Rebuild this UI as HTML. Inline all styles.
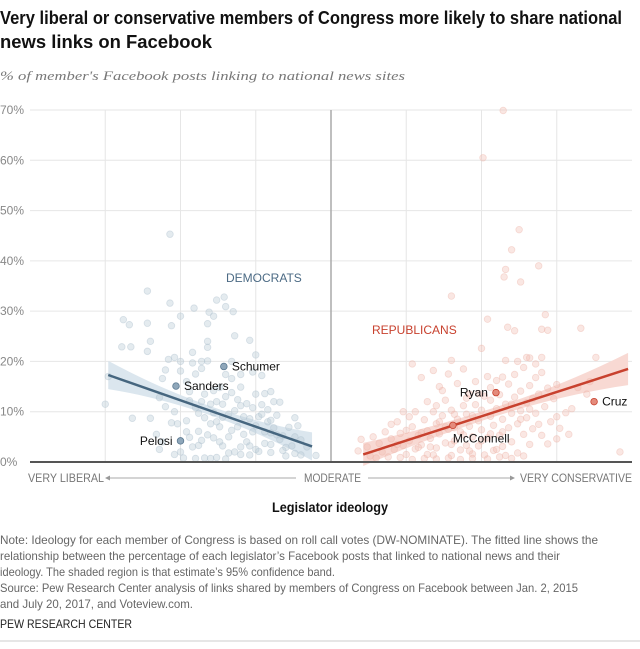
<!DOCTYPE html>
<html><head><meta charset="utf-8"><style>
html,body{margin:0;padding:0;background:#fff;}
svg{display:block;font-family:"Liberation Sans Narrow","Liberation Sans",sans-serif;}
</style></head><body>
<svg id="chart" width="640" height="649" viewBox="0 0 640 649" xmlns="http://www.w3.org/2000/svg">
<text x="0" y="24" font-size="18" font-weight="bold" fill="#111" textLength="622" lengthAdjust="spacingAndGlyphs">Very liberal or conservative members of Congress more likely to share national</text>
<text x="0" y="48" font-size="18" font-weight="bold" fill="#111" textLength="212" lengthAdjust="spacingAndGlyphs">news links on Facebook</text>
<text x="0" y="80" font-size="13" font-style="italic" fill="#777" font-family="Liberation Serif, serif" textLength="405" lengthAdjust="spacingAndGlyphs">% of member's Facebook posts linking to national news sites</text>
<g id="grid"></g>
<g id="bands"></g>
<g id="pts"></g>
<g id="fits"></g>
<g id="labels"></g>
<text x="226" y="282" font-size="12" fill="#4b6a84">DEMOCRATS</text>
<text x="372" y="334" font-size="12" fill="#c8412e">REPUBLICANS</text>
<g font-size="12" fill="#777">
<text x="28" y="482" textLength="76" lengthAdjust="spacingAndGlyphs">VERY LIBERAL</text>
<line x1="108" y1="478" x2="296" y2="478" stroke="#bbb" stroke-width="1.2"/>
<polygon points="105,478 110,475.5 110,480.5" fill="#999"/>
<text x="304" y="482" textLength="57" lengthAdjust="spacingAndGlyphs">MODERATE</text>
<line x1="368" y1="478" x2="511" y2="478" stroke="#bbb" stroke-width="1.2"/>
<polygon points="515,478 510,475.5 510,480.5" fill="#999"/>
<text x="520" y="482" textLength="112" lengthAdjust="spacingAndGlyphs">VERY CONSERVATIVE</text>
</g>
<text x="272" y="512" font-size="14" font-weight="bold" fill="#111" textLength="116" lengthAdjust="spacingAndGlyphs">Legislator ideology</text>
<g font-size="12" fill="#666">
<text x="0" y="544" textLength="598" lengthAdjust="spacingAndGlyphs">Note: Ideology for each member of Congress is based on roll call votes (DW-NOMINATE). The fitted line shows the</text>
<text x="0" y="560" textLength="560" lengthAdjust="spacingAndGlyphs">relationship between the percentage of each legislator’s Facebook posts that linked to national news and their</text>
<text x="0" y="576" textLength="335" lengthAdjust="spacingAndGlyphs">ideology. The shaded region is that estimate’s 95% confidence band.</text>
<text x="0" y="592" textLength="578" lengthAdjust="spacingAndGlyphs">Source: Pew Research Center analysis of links shared by members of Congress on Facebook between Jan. 2, 2015</text>
<text x="0" y="608" textLength="193" lengthAdjust="spacingAndGlyphs">and July 20, 2017, and Voteview.com.</text>
</g>
<text x="0" y="628" font-size="12" fill="#222" textLength="132" lengthAdjust="spacingAndGlyphs">PEW RESEARCH CENTER</text>
<line x1="0" y1="641" x2="640" y2="641" stroke="#ccc" stroke-width="1"/>
</svg>
<script>
const yTicks = [0,10,20,30,40,50,60,70];
const xTicks = [-1,-0.75,-0.5,-0.25,0,0.25,0.5,0.75,1];
const demX = [-0.535,-0.61,-0.535,-0.69,-0.67,-0.61,-0.53,-0.5,-0.455,-0.405,-0.38,-0.355,-0.35,-0.325,-0.39,-0.41,-0.695,-0.665,-0.61,-0.6,-0.32,-0.27,-0.41,-0.41,-0.25,-0.46,-0.74,-0.75,-0.66,-0.6,-0.58,-0.56,-0.57,-0.54,-0.52,-0.5,-0.55,-0.5,-0.56,-0.48,-0.46,-0.45,-0.43,-0.43,-0.41,-0.33,-0.3,-0.26,-0.23,-0.35,-0.33,-0.37,-0.3,-0.25,-0.22,-0.2,-0.19,-0.17,-0.57,-0.55,-0.52,-0.53,-0.51,-0.48,-0.48,-0.47,-0.46,-0.44,-0.52,-0.5,-0.49,-0.45,-0.42,-0.4,-0.38,-0.35,-0.34,-0.32,-0.3,-0.27,-0.24,-0.2,-0.15,-0.12,-0.1,-0.05,-0.08,-0.13,-0.15,-0.16,-0.18,-0.2,-0.22,-0.25,-0.27,-0.29,-0.3,-0.32,-0.34,-0.36,-0.38,-0.4,-0.42,-0.44,-0.45,-0.43,-0.4,-0.38,-0.36,-0.41,-0.39,-0.37,-0.36,-0.34,-0.33,-0.31,-0.29,-0.28,-0.27,-0.26,-0.24,-0.23,-0.21,-0.19,-0.17,-0.14,-0.12,-0.11,-0.1,-0.12,-0.2,-0.18,-0.44,-0.43,-0.39,-0.37,-0.35,-0.33,-0.31,-0.28,-0.26,-0.23,-0.21,-0.39,-0.47,-0.42,-0.47,-0.3,-0.25,-0.22,-0.2,-0.16];
const demY = [45.3,34,31.6,28.3,27.3,27.6,27.1,29,30.6,29.8,32.2,32.8,30.9,29.9,29,27.5,22.9,22.9,22,24,25.1,24.2,24,22.8,21.3,21.8,17,11.5,8.7,8.7,5.5,4,2.5,20.4,20.8,20,18.3,18.1,16.6,16,19.7,17.5,20,18.6,20.1,20,17.4,17.9,17.2,17.4,16.6,14.8,14.9,13.5,13.6,14,12,11.9,12.8,11,10,7.8,7.6,8.2,6,4.9,3,3.3,1.5,2,0.8,0.7,0.8,0.7,0.9,0.6,1.8,2,1.5,1.4,2.1,1.9,1.2,1.7,1.4,1.3,3,3.2,2.9,5.2,5.4,5.8,6,7.2,8.6,9,11.2,10.2,9.5,8.9,8,7.6,8.8,9.7,10.8,12,11.5,12,11.5,5.4,4.8,4,3.2,5,6.3,7,5.5,4,3.2,6,9,9.5,8,6.8,4.5,6.9,5,7.2,4.4,8.8,8.3,9.3,6.1,4.3,9.8,7,13,13.8,12.4,11.6,10.8,11.4,10.4,14.2,12.2,13.5,14,3,2.5,3.7,3.5,2.3];
const repX = [0.572,0.505,0.625,0.6,0.69,0.58,0.575,0.63,0.4,0.712,0.52,0.587,0.61,0.7,0.72,0.83,0.5,0.88,0.27,0.4,0.66,0.7,0.09,0.12,0.14,0.16,0.17,0.18,0.2,0.2,0.21,0.22,0.23,0.24,0.25,0.25,0.26,0.27,0.28,0.28,0.29,0.3,0.3,0.31,0.32,0.32,0.33,0.34,0.34,0.35,0.35,0.36,0.36,0.37,0.37,0.38,0.38,0.39,0.39,0.4,0.4,0.41,0.42,0.42,0.43,0.43,0.44,0.44,0.45,0.45,0.46,0.46,0.47,0.47,0.48,0.48,0.49,0.49,0.5,0.5,0.51,0.51,0.52,0.52,0.53,0.53,0.54,0.54,0.55,0.55,0.56,0.56,0.57,0.57,0.58,0.58,0.59,0.59,0.6,0.6,0.61,0.61,0.62,0.62,0.63,0.63,0.64,0.64,0.65,0.65,0.66,0.66,0.67,0.67,0.68,0.68,0.69,0.7,0.7,0.71,0.72,0.72,0.73,0.74,0.75,0.76,0.78,0.8,0.82,0.85,0.86,0.96,0.1,0.13,0.15,0.19,0.23,0.27,0.31,0.35,0.39,0.43,0.47,0.52,0.56,0.6,0.64,0.3,0.33,0.36,0.38,0.41,0.44,0.47,0.5,0.53,0.57,0.6,0.63,0.66,0.69,0.26,0.24,0.32,0.35,0.41,0.45,0.49,0.53,0.57,0.62,0.65,0.68,0.75,0.79,0.22,0.29,0.34,0.4,0.46,0.55,0.58,0.75];
const repY = [69.9,60.5,46.2,42.2,39,38.3,36.8,35.8,33,29.3,28.4,26.8,26.1,26.4,26.2,26.6,22.6,20.8,19.5,20.2,20.7,20.8,2.2,3,5,3.7,2,6,7.5,4.6,2.5,8,5.7,3.3,6.3,1.5,4.2,7,10,2.6,5.3,3.4,16.8,8.4,6.2,1.5,4.7,10,18.2,7.6,2.8,5.6,15,9.2,14.2,3.8,12.3,6.5,17.5,10.3,1.3,4.2,8.5,15.6,6,2.4,11.2,18.5,9.5,3.3,7.1,13.5,5,1.6,11.4,16,8.2,3.2,10.3,6.4,13.1,1.4,17,4.8,9.1,12.3,7.3,2.3,16.2,10.6,5.3,13.4,8.5,3.1,11.5,20.2,6.8,15.5,9.7,4,12.9,17.4,7.6,1.8,14.1,10.2,5.5,18.8,11.8,8.8,15.2,3.5,12.6,6.6,16.8,9.7,13.5,5.3,17.8,11,14.7,3.6,8,12.6,15.4,6.7,9.8,10.6,14.8,13.5,16,2,4.5,1.2,0.8,1,0.9,0.5,0.7,0.6,0.8,0.5,0.7,0.6,1,0.7,1.2,5.8,3,8,7,6.8,5.4,9.2,4.2,5.6,6,11.5,8.5,10.5,7.5,9,10,12,11.2,9.5,12.7,13.6,14.8,16.9,20,20.8,19.5,4.6,5.5,3.5,2.9,1.4,3.5,2.2,2.5,1.3,9];
const demFitX = [-0.74,-0.063];
const demFitY = [17.3,3.1];
const demBand = [2.8,0.9,2.8];
const repFitX = [0.107,0.987];
const repFitY = [1.5,18.5];
const repBand = [2.3,0.9,3.2];
const namedNames = ["Schumer","Sanders","Pelosi","Ryan","Cruz","McConnell"];
const namedX = [-0.356,-0.515,-0.5,0.548,0.874,0.405];
const namedY = [19,15.1,4.2,13.8,12,7.3];
const namedParty = ["d","d","d","r","r","r"];

const NS="http://www.w3.org/2000/svg";
const X0=30,X1=632,Y0=462,Y70=110;
function sx(v){return 331+v*301;}
function sy(v){return Y0-(v/70)*(Y0-Y70);}
function mk(tag,attrs,parent){const e=document.createElementNS(NS,tag);for(const k in attrs)e.setAttribute(k,attrs[k]);parent.appendChild(e);return e;}
const grid=document.getElementById('grid');
yTicks.forEach(t=>{
  if(t>0){const l=mk('line',{x1:X0,x2:X1,y1:sy(t),y2:sy(t),stroke:'#e6e6e6','stroke-width':1},grid);
  
  }
  const tx=mk('text',{x:0,y:sy(t)+4,'font-size':12,fill:'#888'},grid);
  
  
  tx.textContent=t+'%';
});
xTicks.forEach(t=>{
  if(t===0||Math.abs(t)===1)return;
  const l=mk('line',{x1:sx(t),x2:sx(t),y1:Y70,y2:Y0,stroke:'#e6e6e6','stroke-width':1},grid);
  
  
});
const mid=mk('line',{x1:sx(0),x2:sx(0),y1:Y70,y2:Y0,stroke:'#aaa','stroke-width':1.5},grid);


function band(fx,fy,bw,fill,name){
  const top=[],bot=[];
  for(let i=0;i<=20;i++){const t=i/20;const x=fx[0]+(fx[1]-fx[0])*t;const y=fy[0]+(fy[1]-fy[0])*t;
    const s=2*t-1;const w=t<0.5?bw[1]+(bw[0]-bw[1])*s*s:bw[1]+(bw[2]-bw[1])*s*s;
    top.push(sx(x)+','+sy(y+w));bot.unshift(sx(x)+','+sy(Math.max(y-w,-1)));}
  const p=mk('polygon',{points:top.concat(bot).join(' '),fill:fill},document.getElementById('bands'));
  
  
}
band(demFitX,demFitY,demBand,'#dbe6ee','democrat-confidence-band');
band(repFitX,repFitY,repBand,'#f8d9d3','republican-confidence-band');
const pts=document.getElementById('pts');
demX.forEach((x,i)=>{const c=mk('circle',{cx:sx(x),cy:sy(demY[i]),r:3.3,fill:'rgba(185,202,214,0.38)',stroke:'rgba(175,193,207,0.45)','stroke-width':0.8},pts);
  
  });
repX.forEach((x,i)=>{const c=mk('circle',{cx:sx(x),cy:sy(repY[i]),r:3.3,fill:'rgba(240,185,175,0.35)',stroke:'rgba(235,178,168,0.42)','stroke-width':0.8},pts);
  
  });
const base=mk('line',{x1:X0,x2:X1,y1:Y0,y2:Y0,stroke:'#555','stroke-width':2},pts);


const fits=document.getElementById('fits');
const dl=mk('line',{x1:sx(demFitX[0]),y1:sy(demFitY[0]),x2:sx(demFitX[1]),y2:sy(demFitY[1]),stroke:'#46667f','stroke-width':2.5},fits);


const rl=mk('line',{x1:sx(repFitX[0]),y1:sy(repFitY[0]),x2:sx(repFitX[1]),y2:sy(repFitY[1]),stroke:'#c8412e','stroke-width':2.5},fits);


const labels=document.getElementById('labels');
namedNames.forEach((n,i)=>{
  const d=namedParty[i]==='d';
  const c=mk('circle',{cx:sx(namedX[i]),cy:sy(namedY[i]),r:3.3,fill:d?'#8fa7ba':'#e48b7c',stroke:d?'#5c7a92':'#c8412e','stroke-width':0.8},labels);
  
  
  let x=sx(namedX[i])+8,y=sy(namedY[i])+4,anchor='start';
  if(n==='Pelosi'||n==='Ryan'){x=sx(namedX[i])-8;anchor='end';}
  if(n==='McConnell'){x=sx(namedX[i]);y=sy(namedY[i])+17;anchor='start';}
  const t=mk('text',{x:x,y:y,'font-size':12,fill:'#111','text-anchor':anchor},labels);
  
  
  t.textContent=n;
});
</script>
</body></html>
